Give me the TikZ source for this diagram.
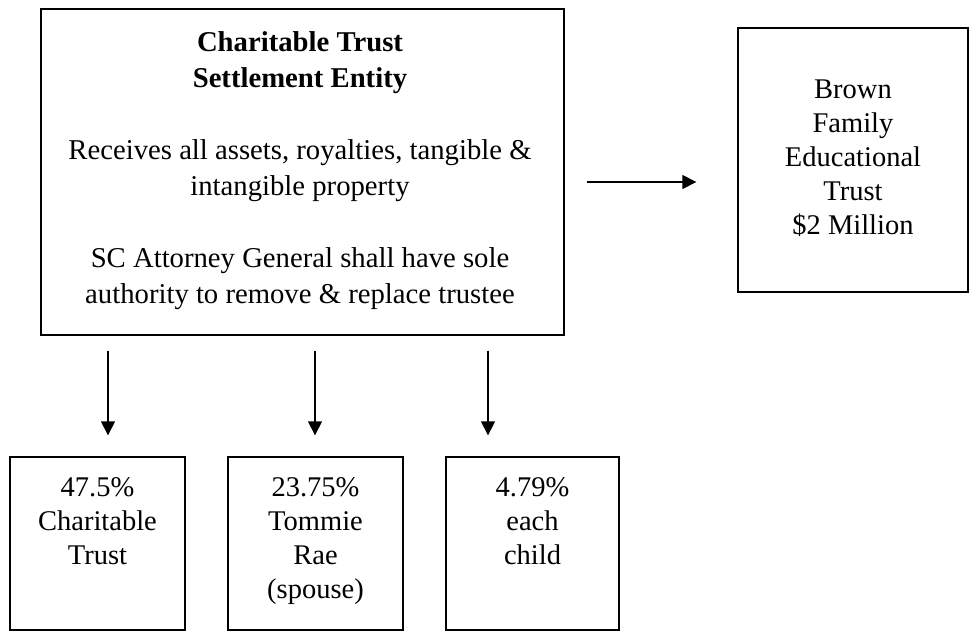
\documentclass[tikz,border=0pt]{standalone}
\usepackage{fontspec}
\setmainfont{Liberation Serif}
\usetikzlibrary{arrows.meta}
\begin{document}
\begin{tikzpicture}[x=1pt,y=-1pt,
  boxnode/.style={draw=black, line width=1.4pt, inner sep=0pt},
  bodytext/.style={align=center, inner sep=0pt, font=\fontsize{28.5}{34}\selectfont},
  arr/.style={line width=1.6pt, -{Triangle[length=14pt,width=14pt]}}]
\useasboundingbox (0,0) rectangle (969,632);
% main box
\node[boxnode, minimum width=523pt, minimum height=326pt] (main) at (302.5,172) {};
\node[align=center, inner sep=0pt, font=\fontsize{28.7}{36}\selectfont] (maintext) at (300,171)
  {\textbf{Charitable Trust}\\\textbf{Settlement Entity}\\[36pt]
   Receives all assets, royalties, tangible \&\\intangible property\\[36pt]
   SC Attorney General shall have sole\\authority to remove \& replace trustee};
% right box
\node[boxnode, minimum width=230pt, minimum height=264pt] (brown) at (853,160) {};
\node[bodytext] (browntext) at (853,158) {Brown\\Family\\Educational\\Trust\\\$2 Million};
% bottom boxes
\node[boxnode, minimum width=175pt, minimum height=173pt] (b1) at (97.5,543.5) {};
\node[boxnode, minimum width=175pt, minimum height=173pt] (b2) at (315.5,543.5) {};
\node[boxnode, minimum width=173pt, minimum height=173pt] (b3) at (532.5,543.5) {};
\node[bodytext, anchor=north] (t1) at ([yshift=-21pt]b1.north) {47.5\%\\Charitable\\Trust};
\node[bodytext, anchor=north] (t2) at ([yshift=-21pt]b2.north) {23.75\%\\Tommie\\Rae\\(spouse)};
\node[bodytext, anchor=north] (t3) at ([yshift=-21pt]b3.north) {4.79\%\\each\\child};
% arrows
\draw[arr, shorten <=22pt, shorten >=41pt] ([yshift=-10pt]main.east) -- ([yshift=-10pt]main.east -| brown.west);
\draw[arr, shorten <=15pt, shorten >=21pt] ([xshift=10.5pt]b1.north |- main.south) -- ([xshift=10.5pt]b1.north);
\draw[arr, shorten <=15pt, shorten >=21pt] ([xshift=-0.5pt]b2.north |- main.south) -- ([xshift=-0.5pt]b2.north);
\draw[arr, shorten <=15pt, shorten >=21pt] ([xshift=-44.5pt]b3.north |- main.south) -- ([xshift=-44.5pt]b3.north);
\end{tikzpicture}
\end{document}
